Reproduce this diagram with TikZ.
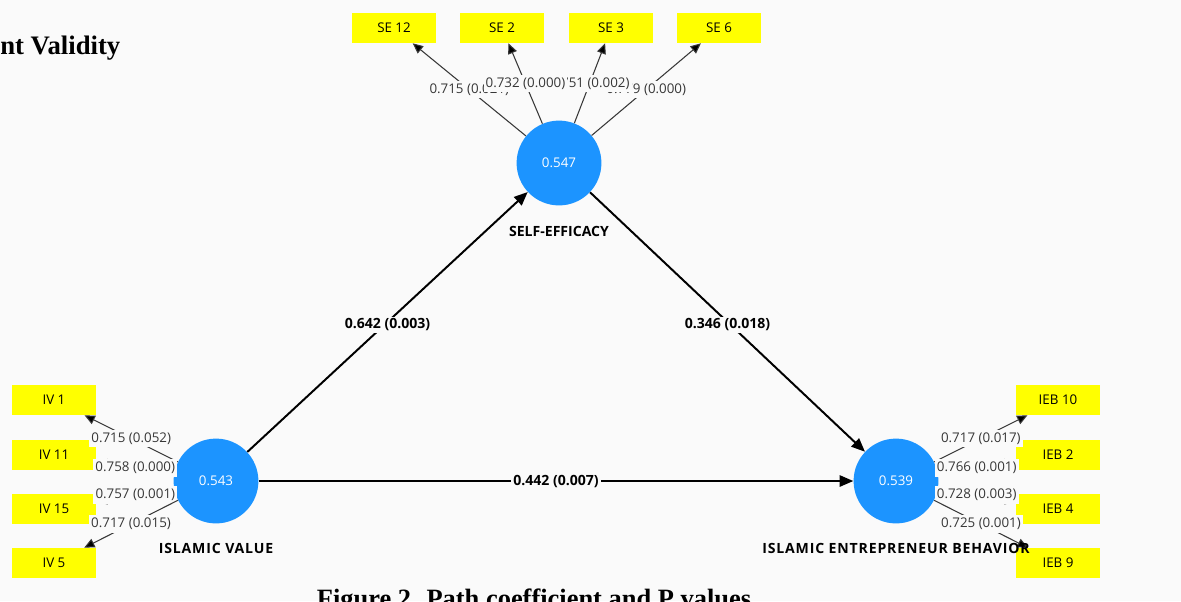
\documentclass[tikz,border=0pt]{standalone}
\usepackage{fontspec}
\setmainfont{Open Sans}
\newfontfamily\capfont{Liberation Serif}
\usepackage{xcolor}
\usepackage{tikz}
\usetikzlibrary{arrows.meta,positioning}
\definecolor{latentblue}{RGB}{28,148,255}
\definecolor{itemyellow}{RGB}{255,255,0}
\definecolor{paper}{RGB}{250,250,250}
\definecolor{loadgray}{RGB}{55,55,55}
\tikzset{>={Triangle[length=3.4mm,width=2.8mm]}}
\tikzset{latent node/.style={circle,fill=latentblue,minimum size=2.12cm,inner sep=0pt,text=white,font=\fontsize{9.5}{11}\selectfont},
            item node/.style={rectangle,fill=itemyellow,minimum width=2.12cm,minimum height=0.75cm,inner sep=0pt,font=\fontsize{9.5}{11}\selectfont},
            load label/.style={fill=paper,inner xsep=1.5pt,inner ysep=2pt,font=\fontsize{9.5}{11}\selectfont,text=loadgray},
            path label/.style={fill=paper,inner sep=1.5pt,font=\bfseries\fontsize{10}{12}\selectfont},
            name label/.style={font=\bfseries\fontsize{10}{12}\selectfont\addfontfeature{LetterSpace=6}},
            load arrow/.style={draw=loadgray,line width=0.75pt,-{Triangle[length=2.6mm,width=2.3mm]}},
            }

\begin{document}
\begin{tikzpicture}[x=0.025cm,y=-0.025cm]

    \clip (0,0) rectangle (1181,601);
    \fill[paper] (0,0) rectangle (1181,601);

    \node[anchor=base west,inner xsep=0pt,font=\capfont\bfseries\fontsize{19}{21}\selectfont] (title) at (0,54) {nt Validity};
    \node[anchor=base,font=\capfont\bfseries\fontsize{18.8}{21}\selectfont] (caption) at (534,607) {Figure 2. Path coefficient and P values};

    \node[latent node] (se) at (559,163) {0.547};
    \node[latent node] (iv) at (216,481) {0.543};
    \node[latent node] (ieb) at (896,481) {0.539};

    \node[item node] (se12) at (394,28) {SE 12};
    \node[item node] (se2) at (502,28) {SE 2};
    \node[item node] (se3) at (611,28) {SE 3};
    \node[item node] (se6) at (719,28) {SE 6};

    \node[item node] (iv1) at (54,400) {IV 1};
    \node[item node] (iv11) at (54,455) {IV 11};
    \node[item node] (iv15) at (54,509) {IV 15};
    \node[item node] (iv5) at (54,563) {IV 5};

    \node[item node] (ieb10) at (1058,400) {IEB 10};
    \node[item node] (ieb2) at (1058,455) {IEB 2};
    \node[item node] (ieb4) at (1058,509) {IEB 4};
    \node[item node] (ieb9) at (1058,563) {IEB 9};

    % outer loadings
    \path[load arrow]
    (se) edge node[load label]{0.715 (0.021)} (se12)
    (se) edge node[load label]{0.779 (0.000)} (se6)
    (se) edge node[load label]{0.751 (0.002)} (se3)
    (se) edge node[load label]{0.732 (0.000)} (se2);

    \path[load arrow]
    (iv) edge node[load label]{0.715 (0.052)} (iv1)
    (iv) edge node[load label]{0.758 (0.000)} (iv11)
    (iv) edge node[load label]{0.757 (0.001)} (iv15)
    (iv) edge node[load label]{0.717 (0.015)} (iv5);

    \path[load arrow]
    (ieb) edge node[load label]{0.717 (0.017)} (ieb10)
    (ieb) edge node[load label]{0.766 (0.001)} (ieb2)
    (ieb) edge node[load label]{0.728 (0.003)} (ieb4)
    (ieb) edge node[load label]{0.725 (0.001)} (ieb9);

    % path coefficients
    \path[draw,line width=1.4pt,->]
    (iv) edge node[path label,yshift=-2pt]{0.642 (0.003)} (se)
    (se) edge node[path label,yshift=-2pt]{0.346 (0.018)} (ieb)
    (iv) edge node[path label]{0.442 (0.007)} (ieb);

    \node[name label,font=\bfseries\fontsize{10}{12}\selectfont] (se name) at (559,231) {SELF-EFFICACY};
    \node[name label] (iv name) at (216,548) {ISLAMIC VALUE};
    \node[name label] (ieb name) at (896,548) {ISLAMIC ENTREPRENEUR BEHAVIOR};

\end{tikzpicture}
\end{document}
